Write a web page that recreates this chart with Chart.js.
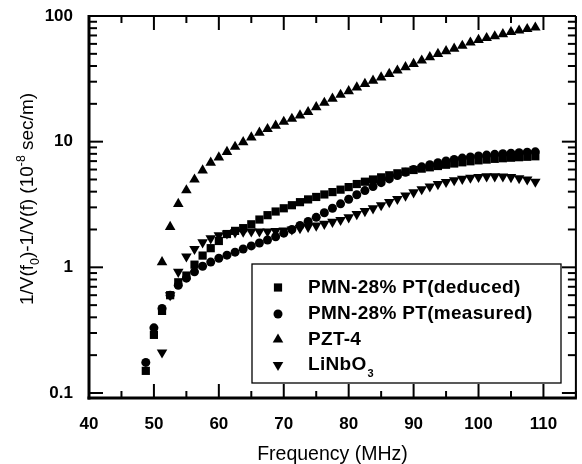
<!DOCTYPE html>
<html>
<head>
<meta charset="utf-8">
<script src="https://cdn.jsdelivr.net/npm/chart.js"></script>
<style>
  html, body { margin: 0; padding: 0; background: #fff; }
  canvas { display: block; }
</style>
</head>
<body>
<canvas id="chart" width="582" height="464"></canvas>
<script>
const FONT = '"Liberation Sans", Arial, Helvetica, sans-serif';

// Frequency grid (MHz) shared by all four series
const freq = [
  48.75, 50, 51.25, 52.5, 53.75, 55, 56.25, 57.5, 58.75, 60,
  61.25, 62.5, 63.75, 65, 66.25, 67.5, 68.75, 70, 71.25, 72.5,
  73.75, 75, 76.25, 77.5, 78.75, 80, 81.25, 82.5, 83.75, 85,
  86.25, 87.5, 88.75, 90, 91.25, 92.5, 93.75, 95, 96.25, 97.5,
  98.75, 100, 101.25, 102.5, 103.75, 105, 106.25, 107.5, 108.75
];

// 1/V(f0) - 1/V(f), units of 1e-8 sec/m
const pmnDeduced = [
  0.15, 0.29, 0.45, 0.60, 0.76, 0.86, 1.05, 1.24, 1.42, 1.62,
  1.84, 1.95, 2.05, 2.2, 2.4, 2.6, 2.78, 2.95, 3.12, 3.3,
  3.47, 3.63, 3.8, 3.97, 4.15, 4.35, 4.6, 4.8, 5.0, 5.2,
  5.4, 5.6, 5.78, 5.95, 6.1, 6.25, 6.4, 6.55, 6.7, 6.85,
  6.98, 7.1, 7.2, 7.3, 7.38, 7.45, 7.52, 7.58, 7.65
];
const pmnMeasured = [
  0.175, 0.33, 0.47, 0.60, 0.72, 0.82, 0.92, 1.02, 1.1, 1.18,
  1.25, 1.32, 1.40, 1.48, 1.56, 1.65, 1.75, 1.87, 2.0, 2.15,
  2.32, 2.5, 2.72, 2.95, 3.2, 3.48, 3.78, 4.08, 4.4, 4.72,
  5.05, 5.38, 5.7, 6.0, 6.3, 6.55, 6.8, 7.02, 7.22, 7.4,
  7.55, 7.7, 7.82, 7.93, 8.02, 8.1, 8.17, 8.23, 8.3
];
const pzt4 = [
  null, null, 1.1, 2.1, 3.2, 4.1, 5.0, 5.9, 6.8, 7.5,
  8.3, 9.1, 9.9, 10.8, 11.8, 12.6, 13.4, 14.4, 15.2, 16.2,
  17.2, 18.8, 20.4, 22.0, 23.6, 25.2, 27.0, 28.8, 30.6, 32.5,
  34.6, 36.8, 39.2, 41.6, 44.2, 47.0, 50.0, 52.5, 55.0, 58.0,
  61.5, 64.5, 66.8, 69.0, 71.8, 74.5, 76.7, 78.8, 81.0
];
const linbo3 = [
  null, null, 0.21, 0.6, 0.92, 1.22, 1.40, 1.58, 1.70, 1.80,
  1.86, 1.90, 1.92, 1.93, 1.93, 1.93, 1.94, 1.96, 2.0, 2.05,
  2.1, 2.15, 2.22, 2.3, 2.38, 2.5, 2.65, 2.8, 2.95, 3.12,
  3.3, 3.5, 3.72, 3.95, 4.18, 4.4, 4.6, 4.78, 4.93, 5.06,
  5.16, 5.24, 5.29, 5.3, 5.28, 5.22, 5.12, 5.0, 4.8
];

const seriesLabels = ['PMN-28% PT(deduced)', 'PMN-28% PT(measured)', 'PZT-4', 'LiNbO'];

const xTickLabels = [40, 50, 60, 70, 80, 90, 100, 110];
const xMinorTicks = [45, 55, 65, 75, 85, 95, 105, 115];
const yTickLabels = [0.1, 1, 10, 100];
const yMinorTicks = [
  0.2, 0.3, 0.4, 0.5, 0.6, 0.7, 0.8, 0.9,
  2, 3, 4, 5, 6, 7, 8, 9,
  20, 30, 40, 50, 60, 70, 80, 90
];

function points(values) {
  return freq
    .map((f, i) => ({ x: f, y: values[i] }))
    .filter((p) => p.y != null);
}

const markers = [
  { pointStyle: 'rect', radius: 5.8, rotation: 0 },
  { pointStyle: 'circle', radius: 4.5, rotation: 0 },
  { pointStyle: 'triangle', radius: 6.1, rotation: 0 },
  { pointStyle: 'triangle', radius: 6.1, rotation: 180 },
];

const datasets = [pmnDeduced, pmnMeasured, pzt4, linbo3].map((values, i) => ({
  label: seriesLabels[i],
  data: points(values),
  showLine: false,
  pointStyle: markers[i].pointStyle,
  pointRadius: markers[i].radius,
  rotation: markers[i].rotation,
  backgroundColor: '#000',
  borderColor: '#000',
  borderWidth: 0,
}));

// Draw text pieces left to right, with sub/superscript shifts
function drawRich(ctx, parts, x, y, size) {
  let cx = x;
  parts.forEach((p) => {
    const s = p.shift ? size * 0.65 : size;
    ctx.font = `${s}px ${FONT}`;
    const dy = p.shift === 'sub' ? size * 0.3 : p.shift === 'sup' ? -size * 0.42 : 0;
    ctx.fillText(p.text, cx, y + dy);
    cx += ctx.measureText(p.text).width;
  });
}

function richWidth(ctx, parts, size) {
  return parts.reduce((w, p) => {
    ctx.font = `${p.shift ? size * 0.65 : size}px ${FONT}`;
    return w + ctx.measureText(p.text).width;
  }, 0);
}

const yTitle = [
  { text: '1/V(f' },
  { text: '0', shift: 'sub' },
  { text: ')-1/V(f) (10' },
  { text: '-8', shift: 'sup' },
  { text: ' sec/m)' },
];

// Frame, inward ticks, y title and boxed legend
const framePlugin = {
  id: 'frame',
  afterDatasetsDraw(chart) {
    const { ctx, chartArea: a } = chart;
    const bx = a.left + 163, by = a.top + 248, bw = 309, bh = 119;
    ctx.save();
    ctx.fillStyle = '#fff';
    ctx.fillRect(bx, by, bw, bh);
    ctx.strokeStyle = '#000';
    ctx.lineWidth = 1.3;
    ctx.strokeRect(bx, by, bw, bh);

    const rowY = [by + 23.5, by + 50, by + 75.5, by + 101];
    ctx.fillStyle = '#000';
    ctx.textBaseline = 'middle';
    ctx.textAlign = 'left';
    ctx.letterSpacing = '0.3px';
    seriesLabels.forEach((label, i) => {
      Chart.helpers.drawPoint(ctx, {
        pointStyle: markers[i].pointStyle,
        radius: markers[i].radius,
        rotation: markers[i].rotation,
        borderWidth: 0,
      }, bx + 26, rowY[i]);
      ctx.font = `bold 19px ${FONT}`;
      ctx.fillText(label, bx + 56, rowY[i]);
      if (i === 3) {
        const w = ctx.measureText(label).width;
        ctx.font = `bold 11px ${FONT}`;
        ctx.fillText('3', bx + 57 + w, rowY[i] + 9);
      }
    });
    ctx.restore();
  },
  afterDraw(chart) {
    const { ctx, chartArea: a, scales: { x, y } } = chart;
    const line = (x1, y1, x2, y2) => {
      ctx.beginPath();
      ctx.moveTo(x1, y1);
      ctx.lineTo(x2, y2);
      ctx.stroke();
    };
    ctx.save();
    ctx.strokeStyle = '#000';
    ctx.lineWidth = 2;
    xTickLabels.forEach((v) => {
      const px = x.getPixelForValue(v);
      line(px, a.bottom, px, a.bottom - 14);
      line(px, a.top, px, a.top + 14);
    });
    xMinorTicks.forEach((v) => {
      const px = x.getPixelForValue(v);
      line(px, a.bottom, px, a.bottom - 7);
      line(px, a.top, px, a.top + 7);
    });
    yTickLabels.forEach((v) => {
      const py = y.getPixelForValue(v);
      line(a.left, py, a.left + 14, py);
      line(a.right, py, a.right - 14, py);
    });
    yMinorTicks.forEach((v) => {
      const py = y.getPixelForValue(v);
      line(a.left, py, a.left + 8, py);
      line(a.right, py, a.right - 8, py);
    });

    ctx.lineWidth = 2;
    line(a.left, a.top, a.right, a.top);
    line(a.right, a.top, a.right, a.bottom);
    ctx.lineWidth = 3;
    line(a.left, a.top - 1, a.left, a.bottom + 1.5);
    line(a.left - 1.5, a.bottom, a.right + 1, a.bottom);

    // rotated y-axis title
    ctx.fillStyle = '#000';
    ctx.textBaseline = 'alphabetic';
    ctx.textAlign = 'left';
    const w = richWidth(ctx, yTitle, 19);
    ctx.translate(33, (a.top + a.bottom) / 2 - 8);
    ctx.rotate(-Math.PI / 2);
    drawRich(ctx, yTitle, -w / 2, 0, 19);
    ctx.restore();
  },
};

new Chart(document.getElementById('chart'), {
  type: 'scatter',
  data: { datasets },
  options: {
    responsive: false,
    animation: false,
    devicePixelRatio: 1,
    layout: { padding: { top: 16, right: 2, left: 0, bottom: 0 } },
    plugins: {
      legend: { display: false },
      tooltip: { enabled: false },
    },
    scales: {
      x: {
        type: 'linear',
        min: 40,
        max: 115,
        grid: { display: false, drawTicks: false },
        border: { display: false },
        afterBuildTicks: (s) => { s.ticks = xTickLabels.map((v) => ({ value: v })); },
        afterFit: (s) => {
          s.height = 66;
          s.paddingLeft = 0;
          s.paddingRight = 0;
        },
        ticks: {
          autoSkip: false,
          maxRotation: 0,
          padding: 16,
          color: '#000',
          font: { family: FONT, size: 17, weight: 'bold' },
          callback: (v) => String(v),
        },
        title: {
          display: true,
          text: 'Frequency (MHz)',
          color: '#000',
          font: { family: FONT, size: 19.5, lineHeight: 1 },
          padding: { top: 0, bottom: 0 },
        },
      },
      y: {
        type: 'logarithmic',
        min: 0.0912,
        max: 100,
        grid: { display: false, drawTicks: false },
        border: { display: false },
        afterBuildTicks: (s) => { s.ticks = yTickLabels.map((v) => ({ value: v })); },
        afterFit: (s) => {
          s.width = 89;
          s.paddingTop = 0;
          s.paddingBottom = 0;
        },
        ticks: {
          autoSkip: false,
          padding: 16,
          color: '#000',
          font: { family: FONT, size: 17, weight: 'bold' },
          callback: (v) => String(v),
        },
      },
    },
  },
  plugins: [framePlugin],
});
</script>
</body>
</html>
